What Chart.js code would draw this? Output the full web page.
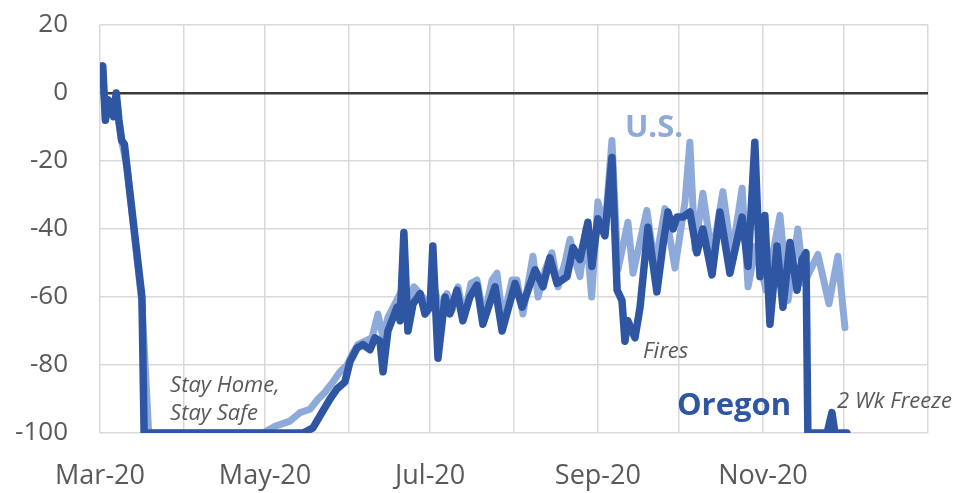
<!DOCTYPE html>
<html>
<head>
<meta charset="utf-8">
<script src="https://cdn.jsdelivr.net/npm/chart.js@4.4.1/dist/chart.umd.min.js"></script>
<style>
  body { margin: 0; background: #fff; }
  #wrap { width: 958px; height: 493px; }
</style>
</head>
<body>
<div id="wrap"><canvas id="grafica" width="958" height="493"></canvas></div>
<script>
// dias desde el 1 de marzo de 2020
const mesesDias = [0, 31, 61, 92, 122, 153, 184, 214, 245, 275, 306];
const mesesEtiquetas = ['Mar-20', '', 'May-20', '', 'Jul-20', '', 'Sep-20', '', 'Nov-20', '', ''];
const yTicks = [20, 0, -20, -40, -60, -80, -100];

// Oregon (linea oscura)
const oregonDias = [0, 1, 2, 3, 4, 5, 6, 7, 8, 9, 10, 15.5, 16.3, 75, 78.7, 82, 85, 87.6, 90.5, 92.4, 95, 97.2, 99.8, 101.6, 103.5, 104.6, 106.4, 109.8, 110.9, 112.3, 113.8, 115.7, 118.3, 120.1, 122, 123, 124.9, 127.5, 129.3, 131.9, 134.1, 136.7, 139.3, 141.5, 146, 148.6, 153.4, 156, 160.8, 163.7, 166.3, 168.9, 172.6, 174.8, 177.4, 180.3, 181.8, 184, 186.6, 189.2, 191.1, 192.9, 194, 195.1, 196.6, 197.7, 199.6, 202.5, 205.8, 208, 209.9, 211.8, 213.2, 215.4, 218, 220.6, 222.8, 226.2, 229.1, 232.8, 237.3, 239.5, 242, 243.9, 245.7, 247.6, 250.2, 252.4, 255, 257.6, 259.4, 260.9, 261.6, 268.7, 270.5, 271.6, 276];
const oregonValores = [5, 8, -8, -2, -3, -7, 0, -8, -14, -15, -22, -60, -100, -100, -98.5, -94, -90, -87, -85, -79, -75, -74, -75.5, -72, -73, -82, -70, -63, -67, -41, -70, -62, -59, -65, -63, -45, -78, -60, -65, -58, -67, -60, -56.5, -68, -57, -70, -56, -63, -52, -57, -48.5, -56, -54, -45.5, -49, -38, -51, -37, -42, -19, -58, -61, -73, -67, -70, -72, -63, -39.5, -58.5, -45, -35, -40, -36.5, -36.5, -35, -47, -40, -53.5, -35, -53, -36.5, -51, -14.5, -54, -36, -68, -45, -63, -44, -58, -49, -47, -100, -100, -94, -100, -100];

// U.S. (linea clara)
const usDias = [0, 1, 2, 3, 4, 5, 6, 7, 8, 10, 15.5, 18, 60.2, 64.7, 70.2, 73.9, 77.6, 80.6, 83.1, 86.1, 88.7, 91.3, 93.1, 95.3, 97.9, 100.5, 102.7, 104.6, 106.4, 109, 111.6, 113.8, 116, 118.3, 121.2, 123.8, 126, 128.2, 130.1, 132.3, 134.5, 137.1, 139.3, 141.9, 144.9, 146.7, 148.9, 152.3, 154.1, 156.3, 160, 161.9, 164.5, 167, 169.3, 171.8, 173.7, 175.9, 177.4, 179.6, 181.7, 184, 186.6, 189.2, 191.4, 195.1, 197, 202.1, 205.1, 208.8, 212.5, 216.2, 218, 219.9, 222.8, 226.2, 230.2, 233.5, 237.3, 239.5, 242.4, 246.1, 251.3, 254.3, 257.9, 260.2, 265.3, 269.4, 272.7, 275.3];
const usValores = [6, 7, -8, -3, -4, -6, -1, -9, -14, -22, -62, -100, -100, -98, -96.5, -94, -93, -90, -88, -85, -82, -80, -77, -74, -73, -72, -65, -72, -66, -62, -58, -62, -57, -59, -62, -58, -65, -59, -64, -57, -66, -56, -55, -66, -55, -53, -67, -55, -55, -65, -48, -60, -52, -47, -57, -50, -43, -50, -54, -40, -60, -32, -40, -14, -52, -38, -53, -34.5, -51, -34, -51.5, -32, -14.5, -46, -29.5, -48, -29, -48, -28, -57, -45, -58, -36, -61, -40, -56, -47.5, -62, -48, -69];

// notas de texto (ancladas en dias / valor)
const notas = [
    { dia: 194, valor: -12.9, texto: 'U.S.', tipo: 'us' },
    { dia: 213.2, valor: -94.7, texto: 'Oregon', tipo: 'or' },
    { dia: 25.9, valor: -87.9, texto: 'Stay Home,', tipo: 'nota' },
    { dia: 25.9, valor: -96.2, texto: 'Stay Safe', tipo: 'nota' },
    { dia: 200.7, valor: -77.9, texto: 'Fires', tipo: 'nota' },
    { dia: 272.4, valor: -92.6, texto: '2 Wk Freeze', tipo: 'nota' }
];

const azulOscuro = '#2f56a3';
const azulClaro = '#8eaadb';
const gris = '#595959';

const estilosNota = {
    us: { font: 'bold 31px "Open Sans"', color: azulClaro },
    or: { font: 'bold 31px "Open Sans"', color: azulOscuro },
    nota: { font: 'italic 22px "Open Sans"', color: gris }
};

const pluginNotas = {
    id: 'notas',
    afterDatasetsDraw(chart) {
        const ctx = chart.ctx;
        const xs = chart.scales.x, ys = chart.scales.y;
        ctx.save();
        ctx.textAlign = 'left';
        ctx.textBaseline = 'alphabetic';
        notas.forEach(n => {
            const st = estilosNota[n.tipo];
            ctx.font = st.font;
            ctx.fillStyle = st.color;
            ctx.fillText(n.texto, xs.getPixelForValue(n.dia), ys.getPixelForValue(n.valor));
        });
        ctx.restore();
    }
};

function puntos(dias, valores) {
    return dias.map((d, i) => ({ x: d, y: valores[i] }));
}

const ctx = document.getElementById('grafica').getContext('2d');
new Chart(ctx, {
    type: 'line',
    data: {
        datasets: [
            {
                label: 'Oregon',
                data: puntos(oregonDias, oregonValores),
                borderColor: azulOscuro,
                borderWidth: 7.5,
                pointRadius: 0,
                tension: 0,
                borderJoinStyle: 'round',
                borderCapStyle: 'round'
            },
            {
                label: 'U.S.',
                data: puntos(usDias, usValores),
                borderColor: azulClaro,
                borderWidth: 7,
                pointRadius: 0,
                tension: 0,
                borderJoinStyle: 'round',
                borderCapStyle: 'round'
            }
        ]
    },
    options: {
        responsive: false,
        animation: false,
        devicePixelRatio: 1,
        layout: { padding: { top: 25, right: 30, left: 0, bottom: 0 } },
        plugins: {
            legend: { display: false },
            tooltip: { enabled: false }
        },
        scales: {
            x: {
                type: 'linear',
                min: 0,
                max: 306,
                afterBuildTicks: scale => {
                    scale.ticks = mesesDias.map(v => ({ value: v }));
                },
                afterFit: scale => { scale.height = 60; },
                ticks: {
                    autoSkip: false,
                    maxRotation: 0,
                    padding: 27,
                    color: gris,
                    font: { family: 'Open Sans', size: 27 },
                    callback: (v) => mesesEtiquetas[mesesDias.indexOf(v)] || ''
                },
                grid: { color: '#d9d9d9', lineWidth: 1.5, drawTicks: false },
                border: { display: false }
            },
            y: {
                min: -100,
                max: 20,
                afterBuildTicks: scale => {
                    scale.ticks = yTicks.map(v => ({ value: v }));
                },
                afterFit: scale => {
                    scale.width = 100;
                    // el padding de las etiquetas no debe empujar el area
                    scale.paddingTop = 0;
                    scale.paddingBottom = 0;
                },
                ticks: {
                    padding: 32,
                    color: gris,
                    font: { family: 'Open Sans', size: 26 }
                },
                grid: {
                    color: c => c.tick && c.tick.value === 0 ? '#3a3a3a' : '#d9d9d9',
                    lineWidth: c => c.tick && c.tick.value === 0 ? 2.5 : 1.5,
                    drawTicks: false
                },
                border: { display: false }
            }
        }
    },
    plugins: [pluginNotas]
});
</script>
</body>
</html>
